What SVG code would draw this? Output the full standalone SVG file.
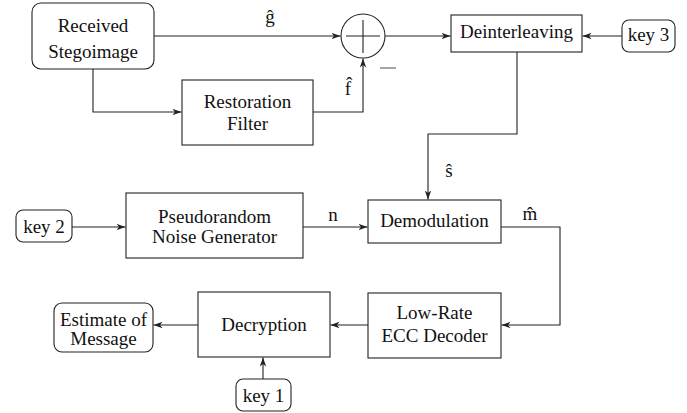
<svg xmlns="http://www.w3.org/2000/svg" width="687" height="413" viewBox="0 0 687 413">
<style>
.box{fill:#fff;stroke:#222;stroke-width:1.1}
.t{font-family:"Liberation Serif","Times New Roman",serif;font-size:19px;fill:#111;text-anchor:middle}
.c{fill:none;stroke:#222;stroke-width:1.1}
</style>
<defs>
<marker id="ah" markerUnits="userSpaceOnUse" markerWidth="10" markerHeight="8" viewBox="0 0 10 8" refX="9" refY="4" orient="auto">
<path d="M0,0.8 L9,4 L0,7.2 L2.5,4 z" fill="#222"/>
</marker>
</defs>
<rect width="687" height="413" fill="#fff"/>
<g id="connectors">
<path class="c" d="M154,36 H340.5" marker-end="url(#ah)"/>
<path class="c" d="M385,36 H450.5" marker-end="url(#ah)"/>
<path class="c" d="M622,36 H582.5" marker-end="url(#ah)"/>
<path class="c" d="M93,69 V112 H181.5" marker-end="url(#ah)"/>
<path class="c" d="M313,112 H363 V58.5" marker-end="url(#ah)"/>
<path class="c" d="M517,52 V134 H428 V199.5" marker-end="url(#ah)"/>
<path class="c" d="M72,227 H125.5" marker-end="url(#ah)"/>
<path class="c" d="M303,227 H367.5" marker-end="url(#ah)"/>
<path class="c" d="M501,227 H560 V325 H501.5" marker-end="url(#ah)"/>
<path class="c" d="M368,325 H330.5" marker-end="url(#ah)"/>
<path class="c" d="M198,325 H153.5" marker-end="url(#ah)"/>
<path class="c" d="M263,379 V357.5" marker-end="url(#ah)"/>
<line x1="380" y1="68" x2="396" y2="68" stroke="#888" stroke-width="1.5"/>
<text class="t" x="270" y="23">ĝ</text>
<text class="t" x="348" y="95">f̂</text>
<text class="t" x="449" y="177">ŝ</text>
<text class="t" x="333" y="221">n</text>
<text class="t" x="530" y="220">m̂</text>
</g>
<g id="received">
<rect class="box" x="32" y="3" width="122" height="66" rx="9"/>
<text class="t" x="93" y="32">Received</text>
<text class="t" x="93" y="58">Stegoimage</text>
</g>
<g id="sum">
<circle class="box" cx="363" cy="36" r="22"/>
<line class="c" x1="346" y1="36" x2="380" y2="36"/>
<line class="c" x1="363" y1="20" x2="363" y2="53"/>
</g>
<g id="restoration">
<rect class="box" x="182" y="80" width="131" height="65"/>
<text class="t" x="247.5" y="108">Restoration</text>
<text class="t" x="247.5" y="130">Filter</text>
</g>
<g id="deinterleaving">
<rect class="box" x="451" y="15" width="131" height="37"/>
<text class="t" x="516.5" y="38">Deinterleaving</text>
</g>
<g id="key3">
<rect class="box" x="622" y="20" width="53" height="32" rx="7"/>
<text class="t" x="648.5" y="41">key 3</text>
</g>
<g id="key2">
<rect class="box" x="16" y="210" width="56" height="32" rx="7"/>
<text class="t" x="44" y="233">key 2</text>
</g>
<g id="pseudorandom">
<rect class="box" x="126" y="193" width="177" height="65"/>
<text class="t" x="214.5" y="223">Pseudorandom</text>
<text class="t" x="214.5" y="243">Noise Generator</text>
</g>
<g id="demodulation">
<rect class="box" x="368" y="200" width="133" height="43"/>
<text class="t" x="434.5" y="227">Demodulation</text>
</g>
<g id="ecc">
<rect class="box" x="368" y="293" width="133" height="65"/>
<text class="t" x="434.5" y="319">Low-Rate</text>
<text class="t" x="434.5" y="342">ECC Decoder</text>
</g>
<g id="decryption">
<rect class="box" x="198" y="292" width="132" height="65"/>
<text class="t" x="264" y="331">Decryption</text>
</g>
<g id="estimate">
<rect class="box" x="54" y="303" width="99" height="49" rx="8"/>
<text class="t" x="103.5" y="326">Estimate of</text>
<text class="t" x="103.5" y="345">Message</text>
</g>
<g id="key1">
<rect class="box" x="236" y="379" width="55" height="32" rx="7"/>
<text class="t" x="263.5" y="402">key 1</text>
</g>
</svg>
